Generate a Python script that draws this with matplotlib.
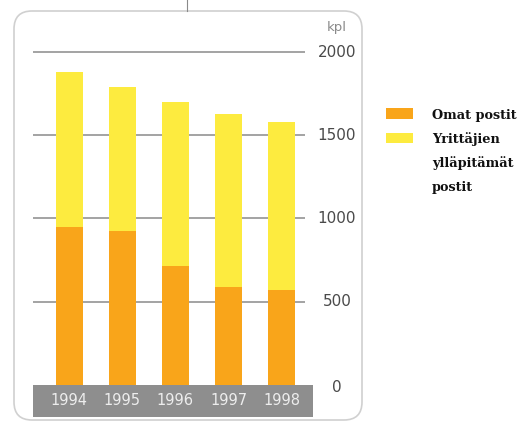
#!/usr/bin/env python3
"""Stacked bar chart: Omat postit vs. Yrittäjien ylläpitämät postit, 1994–1998 (kpl)."""

import matplotlib
matplotlib.use("Agg")
import matplotlib.pyplot as plt
from matplotlib.patches import FancyBboxPatch, Rectangle

# ── Data ────────────────────────────────────────────────────────────────────
years = ["1994", "1995", "1996", "1997", "1998"]
omat = [948, 922, 714, 585, 568]
yrittajat = [931, 867, 989, 1045, 1011]
y_ticks = [0, 500, 1000, 1500, 2000]
legend_lines = ["Omat postit", "Yrittäjien", "ylläpitämät", "postit"]

ORANGE = "#F9A51A"
YELLOW = "#FDEB3F"
GRID = "#9C9C9C"
BAND = "#8E8E8E"

W, H = 520, 423
fig = plt.figure(figsize=(W / 100, H / 100), dpi=100)

# ── Background layer in pixel coordinates ───────────────────────────────────
bg = fig.add_axes([0, 0, 1, 1])
bg.set_xlim(0, W)
bg.set_ylim(H, 0)
bg.axis("off")
bg.add_patch(FancyBboxPatch((14, 11), 348, 409,
                            boxstyle="round,pad=0,rounding_size=18",
                            facecolor="white", edgecolor="#D0D0D0",
                            linewidth=1.2))
bg.plot([187, 187], [0, 11], color="#8A8A8A", linewidth=0.8)

# ── Chart axes ──────────────────────────────────────────────────────────────
x0, x1 = 33, 313
ytop, ybot = 52.3, 417
ax = fig.add_axes([x0 / W, 1 - ybot / H, (x1 - x0) / W, (ybot - ytop) / H])
ax.set_xlim(-0.68, 4.59)
ax.set_ylim(-195, 2000)
ax.axis("off")

for t in y_ticks[1:]:
    ax.hlines(t, -0.68, 4.44, color=GRID, linewidth=1.3, zorder=1,
              clip_on=False)
    ax.text(5.04, t, str(t), ha="center", va="center",
            fontsize=11, color="#4A4A4A", clip_on=False)
ax.text(5.04, -20, "0", ha="center", va="center",
        fontsize=11, color="#4A4A4A", clip_on=False)
ax.text(5.04, 2150, "kpl", ha="center", va="center",
        fontsize=9.5, color="#8A8A8A", clip_on=False)

pos = range(len(years))
ax.bar(pos, omat, width=0.51, color=ORANGE, zorder=2)
ax.bar(pos, yrittajat, bottom=omat, width=0.51, color=YELLOW, zorder=2)

ax.add_patch(Rectangle((-0.68, -195), 5.27, 195, facecolor=BAND,
                       edgecolor="none", zorder=3))
for p, yr in zip(pos, years):
    ax.text(p, -97, yr, ha="center", va="center", fontsize=10.5,
            color="#EDEDED", zorder=4)

# ── Legend ─────────────────────────────────────────────────────────────────
bg.add_patch(Rectangle((386, 108), 27, 11, facecolor=ORANGE, edgecolor="none"))
bg.add_patch(Rectangle((386, 133), 27, 10, facecolor=YELLOW, edgecolor="none"))
for line, yy in zip(legend_lines, [115, 139.5, 163.5, 187.5]):
    bg.text(432, yy, line, ha="left", va="center",
            fontsize=9.3, fontweight="bold", family="DejaVu Serif",
            color="#111111")

fig.savefig("out.png", dpi=100, facecolor="white")
